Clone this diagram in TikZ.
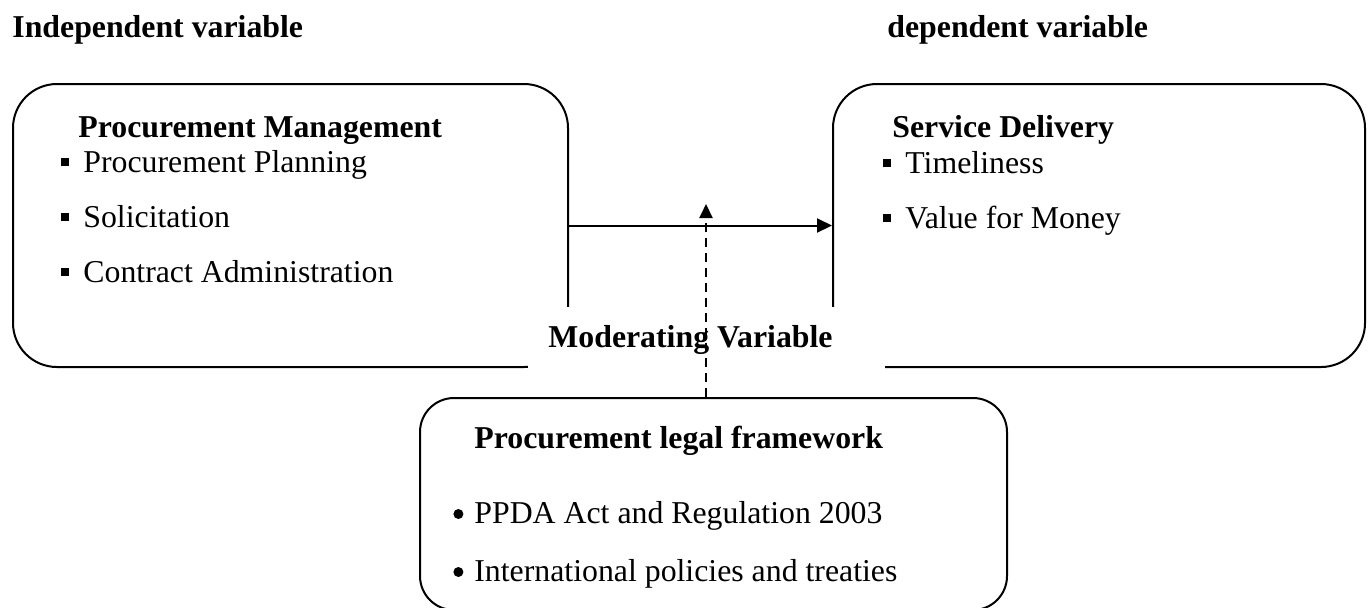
\documentclass[tikz,border=0pt]{standalone}
\usepackage{fontspec}
\setmainfont{Liberation Serif}
\usetikzlibrary{arrows.meta}
\newcommand\sqbul{\llap{\rule[2.8pt]{4pt}{4pt}\hspace{7pt}}}
\newcommand\rdbul{\llap{\raisebox{2pt}{\tikz\fill (0,0) circle (2.5pt);}\hspace{5.5pt}}}
\tikzset{
 box/.style={draw, line width=1pt, rounded corners=22pt, inner sep=0pt},
 txt/.style={anchor=base west, inner sep=0pt, font=\fontsize{15.9pt}{19pt}\selectfont},
 hd/.style={txt, font=\fontsize{15.9pt}{19pt}\selectfont\bfseries},
 conn/.style={line width=1pt, -{Triangle[length=7.5pt,width=7pt]}},
 dconn/.style={line width=1pt, dash pattern=on 4.5pt off 3pt, -{Triangle[length=7pt,width=6.5pt]}},
}
\begin{document}
\begin{tikzpicture}[x=0.5pt,y=-0.5pt]
\useasboundingbox (0,0) rectangle (1369,607);
\clip (0,0) rectangle (1369,607);
% titles
\node[hd] (indep) at (12,37) {Independent variable};
\node[hd] (dep) at (887,37) {dependent variable};
% main boxes
\node[box, minimum width=277.5pt, minimum height=141.5pt] (pm) at (290.5,225.5) {};
\node[box, minimum width=266pt, minimum height=141.5pt] (sd) at (1099,225.5) {};
\node[hd] (pmh) at (78,137) {Procurement Management};
\node[txt] (pm1) at (83,172) {\sqbul Procurement Planning};
\node[txt] (pm2) at (83,227) {\sqbul Solicitation};
\node[txt] (pm3) at (83,282) {\sqbul Contract Administration};
\node[hd] (sdh) at (892,137) {Service Delivery};
\node[txt] (sd1) at (905,173) {\sqbul Timeliness};
\node[txt] (sd2) at (905,228) {\sqbul Value for Money};
% white cover behind the moderating label
\node[fill=white, inner sep=0pt, minimum width=178.5pt, minimum height=44.5pt] (cover) at (706.5,351.5) {};
\node[hd] (mv) at (548,347) {Moderating Variable};
% bottom box
\node[box, rounded corners=17pt, minimum width=293.5pt, minimum height=106pt] (lf) at (713.5,504) {};
\node[hd] (lfh) at (474,448) {Procurement legal framework};
\node[txt] (lf1) at (474,523) {\rdbul PPDA Act and Regulation 2003};
\node[txt] (lf2) at (474,581) {\rdbul International policies and treaties};
% connectors
\draw[conn] (pm.east) -- (sd.west);
\coordinate (tip) at (706,204);
\draw[dconn] (lf.north -| tip) -- (tip);
\end{tikzpicture}
\end{document}
